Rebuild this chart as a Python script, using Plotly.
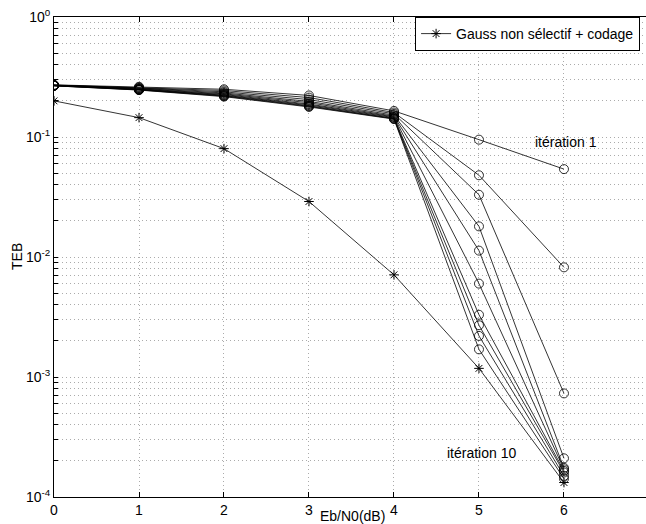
import numpy as np
import plotly.graph_objects as go

# ---- data ----
ebn0 = [0, 1, 2, 3, 4, 5, 6]
gauss_codage = [0.2, 0.145, 0.08, 0.029, 0.0071, 0.00118, 0.000132]

iter_01 = [0.272, 0.262, 0.250, 0.222, 0.165, 0.095, 0.054]
iter_02 = [0.271, 0.259, 0.244, 0.213, 0.160, 0.048, 0.0082]
iter_03 = [0.270, 0.256, 0.238, 0.205, 0.156, 0.033, 0.00073]
iter_04 = [0.270, 0.254, 0.233, 0.198, 0.152, 0.018, 0.00021]
iter_05 = [0.269, 0.252, 0.229, 0.193, 0.149, 0.0113, 0.000175]
iter_06 = [0.269, 0.250, 0.226, 0.188, 0.147, 0.0060, 0.00017]
iter_07 = [0.268, 0.249, 0.223, 0.185, 0.145, 0.0033, 0.000165]
iter_08 = [0.268, 0.248, 0.221, 0.182, 0.143, 0.0027, 0.00016]
iter_09 = [0.267, 0.247, 0.219, 0.180, 0.142, 0.0022, 0.00015]
iter_10 = [0.267, 0.246, 0.217, 0.178, 0.141, 0.0017, 0.000142]
iterations = [iter_01, iter_02, iter_03, iter_04, iter_05,
              iter_06, iter_07, iter_08, iter_09, iter_10]

x_ticks = [0, 1, 2, 3, 4, 5, 6]
y_decade_labels = ["10<sup>-4</sup>", "10<sup>-3</sup>", "10<sup>-2</sup>",
                   "10<sup>-1</sup>", "10<sup>0</sup>"]

legend_label = "Gauss non sélectif + codage"
label_first = "itération 1"
label_last = "itération 10"
x_title = "Eb/N0(dB)"
y_title = "TEB"

# ---- figure ----
FONT = "Liberation Sans, Arial, sans-serif"
FS = 14
fig = go.Figure()

for it in iterations:
    fig.add_trace(go.Scatter(
        x=ebn0, y=it, mode="lines+markers", showlegend=False,
        line=dict(color="black", width=0.8),
        marker=dict(symbol="circle-open", size=9,
                    line=dict(color="black", width=0.8)),
    ))

fig.add_trace(go.Scatter(
    x=ebn0, y=gauss_codage, mode="lines+markers", name=legend_label,
    line=dict(color="black", width=0.8),
    marker=dict(symbol="asterisk-open", size=8,
                line=dict(color="black", width=1)),
))

# y ticks at every 1..9 * decade, labels only on decades
y_tickvals = []
y_ticktext = []
for d in range(-4, 1):
    for m in range(1, 10):
        v = m * 10.0 ** d
        if v > 1.0001:
            break
        y_tickvals.append(v)
        y_ticktext.append(y_decade_labels[d + 4] if m == 1 else "")

grid_col = "#ababab"
fig.update_xaxes(
    range=[0, 6.965], tickvals=x_ticks, ticktext=[str(v) for v in x_ticks],
    showgrid=True, gridcolor=grid_col, griddash="1px,3px", gridwidth=1,
    showline=True, linecolor="black", linewidth=1, mirror="allticks",
    ticks="inside", ticklen=5, tickcolor="black", zeroline=False,
    automargin=False, tickfont=dict(size=FS),
)
fig.update_yaxes(
    type="log", range=[-4, 0], tickvals=y_tickvals, ticktext=y_ticktext,
    showgrid=True, gridcolor=grid_col, griddash="1px,3px", gridwidth=1,
    showline=True, linecolor="black", linewidth=1, mirror=False,
    ticks="inside", ticklen=4, tickcolor="black", zeroline=False,
    automargin=False, tickfont=dict(size=FS),
)

fig.add_annotation(x=5.63, y=np.log10(0.09), text=label_first, showarrow=False,
                   xanchor="left", yanchor="middle", font=dict(size=FS, color="black"))
fig.add_annotation(x=4.6, y=-3.63, text=label_last, showarrow=False,
                   xanchor="left", yanchor="middle", font=dict(size=FS, color="black"))
fig.add_annotation(xref="paper", yref="paper", x=0.505, y=0, yshift=-19,
                   text=x_title, showarrow=False, xanchor="center", yanchor="middle",
                   font=dict(size=FS, color="black"))
fig.add_annotation(xref="paper", yref="paper", x=0, y=0.5, xshift=-37,
                   text=y_title, showarrow=False, textangle=-90,
                   xanchor="center", yanchor="middle",
                   font=dict(size=FS, color="black"))

fig.update_layout(
    width=646, height=524,
    margin=dict(l=54, r=0, t=17, b=27),
    paper_bgcolor="white", plot_bgcolor="white",
    font=dict(family=FONT, size=FS, color="black"),
    legend=dict(x=0.99, y=1.0, xanchor="right", yanchor="top",
                bgcolor="white", bordercolor="black", borderwidth=1,
                font=dict(size=FS), itemwidth=30, tracegroupgap=0),
)

fig.write_html("out.html", config={"displayModeBar": False},
               post_script="document.body.style.margin='0';")
